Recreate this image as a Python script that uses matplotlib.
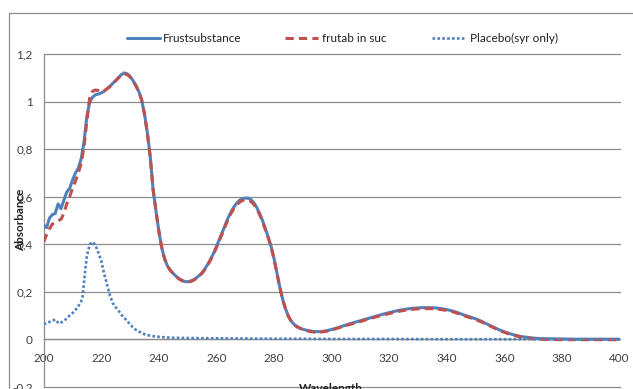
import matplotlib
matplotlib.use("Agg")
import matplotlib.pyplot as plt
from matplotlib.lines import Line2D
from matplotlib.ticker import FixedLocator, FixedFormatter

plt.rcParams['font.family'] = ['Lato', 'DejaVu Sans']

# ---- data -------------------------------------------------------------
series_names = ["Frustsubstance", "frutab in suc", "Placebo(syr only)"]

wl_main = [200, 201, 202, 203, 204, 205, 206, 207, 208, 209,
           210, 211, 212, 213, 214, 215, 216, 217, 218, 219,
           220, 221, 222, 223, 224, 225, 226, 227, 228, 229,
           230, 231, 232, 233, 234, 235, 236, 237, 238, 239,
           240, 241, 242, 243, 244, 245, 246, 247, 248, 249,
           250, 251, 252, 253, 254, 255, 256, 257, 258, 259,
           260, 261, 262, 263, 264, 265, 266, 267, 268, 269,
           270, 271, 272, 273, 274, 275, 276, 277, 278, 279,
           280, 281, 282, 283, 284, 285, 286, 287, 288, 289,
           290, 292, 294, 296, 298, 300, 302, 304, 306, 308,
           310, 312, 314, 316, 318, 320, 322, 324, 326, 328,
           330, 332, 334, 336, 338, 340, 342, 344, 346, 348,
           350, 352, 354, 356, 358, 360, 362, 364, 366, 368,
           370, 372, 375, 380, 385, 390, 395, 400]

frust = [0.480, 0.470, 0.510, 0.525, 0.530, 0.570, 0.550, 0.585, 0.620, 0.635,
         0.670, 0.700, 0.720, 0.760, 0.830, 0.940, 1.000, 1.020, 1.030, 1.033,
         1.038, 1.045, 1.055, 1.065, 1.078, 1.090, 1.103, 1.115, 1.122, 1.118,
         1.108, 1.090, 1.070, 1.045, 1.010, 0.950, 0.870, 0.770, 0.630, 0.540,
         0.455, 0.385, 0.338, 0.308, 0.290, 0.277, 0.265, 0.255, 0.248, 0.243,
         0.242, 0.245, 0.250, 0.258, 0.268, 0.280, 0.297, 0.316, 0.338, 0.362,
         0.390, 0.420, 0.450, 0.480, 0.510, 0.535, 0.556, 0.573, 0.585, 0.592,
         0.595, 0.594, 0.588, 0.575, 0.555, 0.530, 0.500, 0.465, 0.430, 0.390,
         0.340, 0.280, 0.220, 0.168, 0.128, 0.097, 0.076, 0.062, 0.053, 0.047,
         0.042, 0.036, 0.032, 0.032, 0.035, 0.041, 0.048, 0.056, 0.064, 0.071,
         0.078, 0.085, 0.092, 0.099, 0.106, 0.112, 0.118, 0.123, 0.127, 0.130,
         0.132, 0.133, 0.133, 0.132, 0.129, 0.125, 0.119, 0.111, 0.102, 0.094,
         0.086, 0.076, 0.064, 0.052, 0.041, 0.031, 0.023, 0.016, 0.011, 0.008,
         0.005, 0.003, 0.002, 0.001, 0.000, 0.000, 0.000, 0.000]

frutab = [0.410, 0.440, 0.465, 0.485, 0.495, 0.500, 0.505, 0.530, 0.570, 0.600,
          0.635, 0.665, 0.700, 0.740, 0.810, 0.920, 1.020, 1.045, 1.050, 1.048,
          1.043, 1.047, 1.055, 1.065, 1.077, 1.089, 1.101, 1.112, 1.118, 1.115,
          1.105, 1.088, 1.068, 1.043, 1.008, 0.948, 0.868, 0.768, 0.630, 0.540,
          0.455, 0.386, 0.339, 0.309, 0.290, 0.276, 0.264, 0.254, 0.247, 0.242,
          0.241, 0.243, 0.248, 0.256, 0.266, 0.278, 0.294, 0.313, 0.335, 0.358,
          0.386, 0.415, 0.445, 0.475, 0.504, 0.529, 0.549, 0.565, 0.577, 0.584,
          0.587, 0.586, 0.580, 0.568, 0.549, 0.525, 0.496, 0.462, 0.427, 0.388,
          0.338, 0.279, 0.219, 0.167, 0.127, 0.096, 0.075, 0.061, 0.052, 0.046,
          0.040, 0.034, 0.030, 0.030, 0.033, 0.039, 0.046, 0.054, 0.061, 0.068,
          0.075, 0.082, 0.089, 0.096, 0.102, 0.108, 0.114, 0.119, 0.123, 0.126,
          0.128, 0.129, 0.129, 0.128, 0.125, 0.121, 0.116, 0.108, 0.099, 0.091,
          0.083, 0.073, 0.062, 0.050, 0.039, 0.029, 0.021, 0.014, 0.009, 0.005,
          0.002, 0.000, -0.001, -0.002, -0.002, -0.002, -0.002, -0.002]

wl_placebo = [200, 201, 202, 203, 204, 205, 205.5, 206, 207, 208,
              209, 210, 211, 212, 213, 213.5, 214, 214.5, 215, 216,
              217, 218, 219, 220, 221, 222, 223, 224, 225, 226,
              227, 228, 229, 230, 231, 232, 233, 234, 235, 236,
              238, 240, 242, 245, 250, 260, 270, 280, 290, 300,
              320, 340, 360, 380, 400]
placebo = [0.063, 0.068, 0.073, 0.078, 0.083, 0.070, 0.066, 0.070, 0.077, 0.087,
           0.100, 0.110, 0.123, 0.138, 0.160, 0.180, 0.240, 0.300, 0.350, 0.400,
           0.410, 0.395, 0.365, 0.330, 0.275, 0.230, 0.185, 0.152, 0.135, 0.120,
           0.103, 0.090, 0.077, 0.063, 0.050, 0.040, 0.033, 0.026, 0.021, 0.017,
           0.013, 0.010, 0.008, 0.006, 0.005, 0.004, 0.003, 0.002, 0.002, 0.001,
           0.001, 0.000, 0.000, 0.000, 0.000]

x_ticks = [200, 220, 240, 260, 280, 300, 320, 340, 360, 380, 400]
y_ticks = [-0.2, 0.0, 0.2, 0.4, 0.6, 0.8, 1.0, 1.2]
y_tick_labels = ["-0,2", "0", "0,2", "0,4", "0,6", "0,8", "1", "1,2"]

# ---- styling ------------------------------------------------------------
W, H = 633, 389
BLUE = "#4F81BD"
RED = "#C0504D"
GRID = "#8C8C8C"
TXT = "#404040"
FS = 8.5

fig = plt.figure(figsize=(W / 100, H / 100), dpi=100)
ax = fig.add_axes([43.7 / W, (H - 386.7) / H, 575.8 / W, 332.3 / H])

styles = [
    dict(color=BLUE, lw=2.2, ls="-", solid_capstyle="round"),
    dict(color=RED, lw=2.2, dashes=(2.7, 1.7), dash_capstyle="butt"),
    dict(color=BLUE, lw=1.9, dashes=(1.0, 0.85), dash_capstyle="butt"),
]

ax.plot(wl_main, frust, zorder=3, **styles[0])
ax.plot(wl_main, frutab, zorder=4, **styles[1])
ax.plot(wl_placebo, placebo, zorder=5, **styles[2])

ax.set_xlim(200, 400)
ax.set_ylim(-0.2, 1.2)

ax.xaxis.set_major_locator(FixedLocator(x_ticks))
ax.yaxis.set_major_locator(FixedLocator(y_ticks))
ax.yaxis.set_major_formatter(FixedFormatter(y_tick_labels))

ax.grid(axis="y", color=GRID, lw=0.9, zorder=1)
ax.set_axisbelow(True)
for gl in ax.get_ygridlines():
    gl.set_clip_on(False)

for side in ("top", "right"):
    ax.spines[side].set_visible(False)
ax.spines["left"].set_color(GRID)
ax.spines["left"].set_linewidth(0.9)
ax.spines["bottom"].set_position(("data", 0))
ax.spines["bottom"].set_color(GRID)
ax.spines["bottom"].set_linewidth(0.9)

ax.tick_params(axis="x", length=0, pad=10, labelsize=FS, labelcolor=TXT)
ax.tick_params(axis="y", length=0, pad=8, labelsize=FS, labelcolor=TXT)

# axis titles
fig.text(21 / W, 1 - 220 / H, "Absorbance", rotation=90, ha="center",
         va="center", fontsize=FS, fontweight="bold", color="#222222")
fig.text(331 / W, 1 - 388 / H, "Wavelength", ha="center", va="center",
         fontsize=FS, fontweight="bold", color="#222222")

# legend row above the plot
leg_y = 1 - 38 / H
handle_spans = [(127, 160), (285, 318), (432, 465)]
text_starts = [163, 322, 470]
for name, st, (x0, x1), tx in zip(series_names, styles, handle_spans, text_starts):
    fig.add_artist(Line2D([x0 / W, x1 / W], [leg_y, leg_y],
                          transform=fig.transFigure, **st))
    fig.text(tx / W, leg_y, name, ha="left", va="center", fontsize=FS,
             color="#202020")

# chart area frame
fig.add_artist(Line2D([8.5 / W, 8.5 / W, 1.0], [0.0, 1 - 12.5 / H, 1 - 12.5 / H],
                      transform=fig.transFigure, color=GRID, lw=0.9))

fig.savefig("out.png", dpi=100)
